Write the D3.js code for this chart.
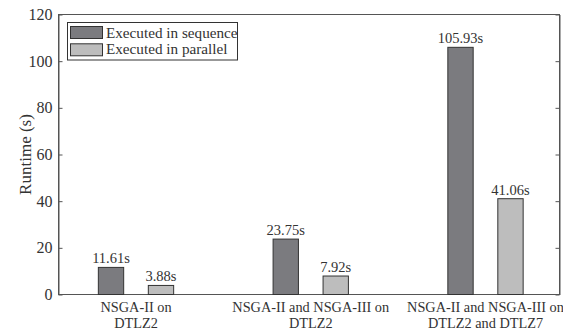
<!DOCTYPE html>
<html lang='en'>
	<head>
		<title>Runtime bars</title>
		<script type='text/javascript' src='https://cdn.jsdelivr.net/npm/d3@7'></script>
		<style>
			body { margin: 0; background: #fff; }
		</style>
	</head>
	<body>
		<script type='text/javascript'>
		var categories = [['NSGA-II on', 'DTLZ2'], ['NSGA-II and NSGA-III on', 'DTLZ2'], ['NSGA-II and NSGA-III on', 'DTLZ2 and DTLZ7']];
		var series_names = ['Executed in sequence', 'Executed in parallel'];
		var sequence_values = [11.61, 23.75, 105.93];
		var parallel_values = [3.88, 7.92, 41.06];
		var y_ticks = [0, 20, 40, 60, 80, 100, 120];
		var colors = ['#7b7b7f', '#bdbdbd'];

		{
			var width = 563, height = 331;
			var plot_l = 58.5, plot_r = 559.5, plot_t = 14.5, plot_b = 294.5;
			var serif = "'Liberation Serif'";
			var svg_elem = d3.select('body').append('svg').attr('width', width).attr('height', height);

			var x = d3.scaleLinear().domain([0.5565, 3.4235]).range([plot_l, plot_r]);
			var y = d3.scaleLinear().domain([0, 120]).range([plot_b, plot_t]);
			var bar_w = 0.145, bar_off = 0.143;

			// box
			svg_elem.append('rect').attr('x', plot_l).attr('y', plot_t).attr('width', plot_r - plot_l).attr('height', plot_b - plot_t)
				.attr('fill', 'none').attr('stroke', '#555').attr('stroke-width', 1);

			// y axis left and right, ticks inward
			var yl = svg_elem.append('g').attr('transform', 'translate(' + plot_l + ',0)')
				.call(d3.axisLeft(y).tickValues(y_ticks).tickSizeInner(-4).tickSizeOuter(0).tickPadding(6));
			yl.select('.domain').attr('stroke', '#555');
			yl.selectAll('line').attr('stroke', '#555');
			yl.selectAll('text').style('font-family', serif).style('font-size', '16px').attr('fill', '#333');
			var yr = svg_elem.append('g').attr('transform', 'translate(' + plot_r + ',0)')
				.call(d3.axisRight(y).tickValues(y_ticks).tickSizeInner(-4).tickSizeOuter(0).tickFormat(''));
			yr.select('.domain').attr('stroke', '#555');
			yr.selectAll('line').attr('stroke', '#555');

			svg_elem.append('text').attr('transform', 'translate(31,' + 154.5 + ') rotate(-90)')
				.attr('text-anchor', 'middle').style('font-family', serif).style('font-size', '17px').attr('fill', '#333').text('Runtime (s)');

			var data = [];
			for (var i = 0; i < categories.length; i++) {
				data.push({pos: i + 1 - bar_off, v: sequence_values[i], c: 0});
				data.push({pos: i + 1 + bar_off, v: parallel_values[i], c: 1});
			}

			svg_elem.selectAll('rect.bar').data(data).enter().append('rect').attr('class', 'bar')
				.attr('x', d => x(d.pos - bar_w / 2))
				.attr('y', d => y(d.v))
				.attr('width', d => x(d.pos + bar_w / 2) - x(d.pos - bar_w / 2))
				.attr('height', d => y(0) - y(d.v))
				.attr('fill', d => colors[d.c])
				.attr('stroke', '#333').attr('stroke-width', 1);

			svg_elem.selectAll('text.val').data(data).enter().append('text').attr('class', 'val')
				.attr('x', d => x(d.pos)).attr('y', d => y(d.v) - 4)
				.attr('text-anchor', 'middle').style('font-family', serif).style('font-size', '14.5px').attr('fill', '#333')
				.text(d => d.v.toFixed(2) + 's');

			// x labels
			categories.forEach(function(c, i) {
				var t = svg_elem.append('text').attr('text-anchor', 'middle').style('font-family', serif).style('font-size', '14.3px').attr('fill', '#333');
				c.forEach(function(line, j) {
					t.append('tspan').attr('x', x(i + 1)).attr('y', 311.5 + j * 16.5).text(line);
				});
			});

			// legend
			var lg = svg_elem.append('g');
			lg.append('rect').attr('x', 67.5).attr('y', 22.5).attr('width', 170).attr('height', 37.5)
				.attr('fill', '#fff').attr('stroke', '#333');
			series_names.forEach(function(name, i) {
				lg.append('rect').attr('x', 70.5).attr('y', 26.5 + i * 17.3).attr('width', 32).attr('height', 12)
					.attr('fill', colors[i]).attr('stroke', '#333');
				lg.append('text').attr('x', 106).attr('y', 37.5 + i * 16.7).style('font-family', serif).style('font-size', '15.2px').attr('fill', '#333').text(name);
			});
		}
		</script>
	</body>
</html>
